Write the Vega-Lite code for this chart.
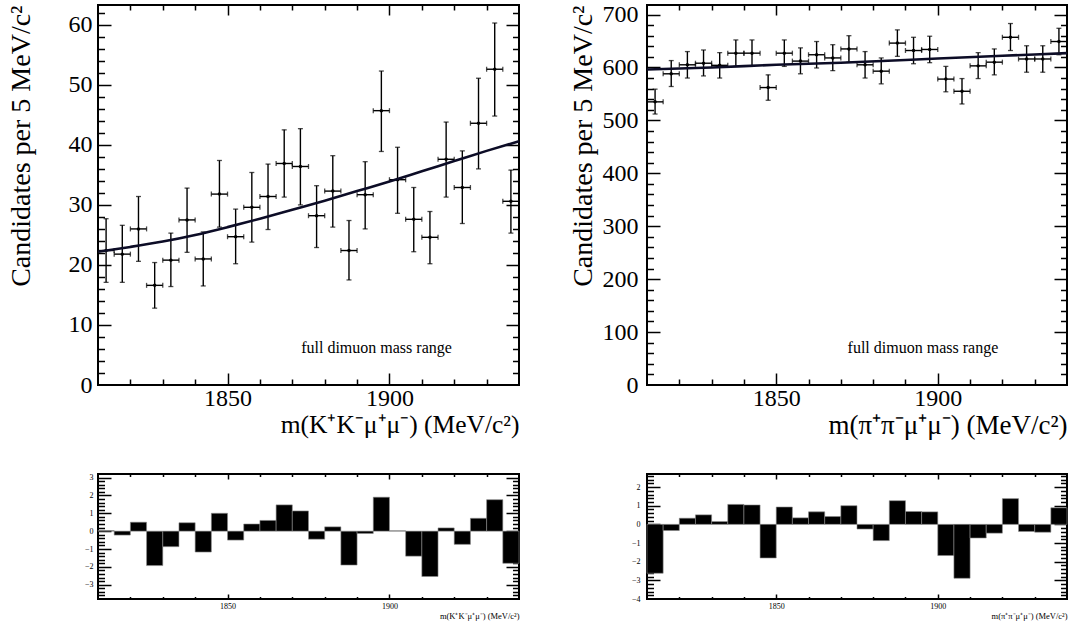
{
  "$schema": "https://vega.github.io/schema/vega-lite/v6.json",
  "background": "white",
  "padding": {"left": 5, "top": 1, "right": 5, "bottom": 5},
  "bounds": "flush",
  "columns": 2,
  "spacing": {"row": 89, "column": 128},
  "datasets": {
    "kk": [
      {"c":1812.5,"lo":1810,"hi":1815,"v":22.4,"elo":17.1,"ehi":27.7,"pull":0.03},
      {"c":1817.5,"lo":1815,"hi":1820,"v":21.8,"elo":17.1,"ehi":26.6,"pull":-0.22},
      {"c":1822.5,"lo":1820,"hi":1825,"v":26.0,"elo":20.6,"ehi":31.4,"pull":0.5},
      {"c":1827.5,"lo":1825,"hi":1830,"v":16.6,"elo":12.8,"ehi":20.4,"pull":-1.93},
      {"c":1832.5,"lo":1830,"hi":1835,"v":20.8,"elo":16.4,"ehi":25.3,"pull":-0.87},
      {"c":1837.5,"lo":1835,"hi":1840,"v":27.5,"elo":22.1,"ehi":32.8,"pull":0.47},
      {"c":1842.5,"lo":1840,"hi":1845,"v":21.0,"elo":16.5,"ehi":25.5,"pull":-1.17},
      {"c":1847.5,"lo":1845,"hi":1850,"v":31.8,"elo":26.3,"ehi":37.4,"pull":1.0},
      {"c":1852.5,"lo":1850,"hi":1855,"v":24.7,"elo":20.2,"ehi":29.3,"pull":-0.5},
      {"c":1857.5,"lo":1855,"hi":1860,"v":29.6,"elo":23.8,"ehi":35.4,"pull":0.4},
      {"c":1862.5,"lo":1860,"hi":1865,"v":31.4,"elo":25.9,"ehi":36.8,"pull":0.6},
      {"c":1867.5,"lo":1865,"hi":1870,"v":36.9,"elo":31.3,"ehi":42.5,"pull":1.47},
      {"c":1872.5,"lo":1870,"hi":1875,"v":36.4,"elo":30.0,"ehi":42.7,"pull":1.13},
      {"c":1877.5,"lo":1875,"hi":1880,"v":28.2,"elo":22.9,"ehi":33.2,"pull":-0.45},
      {"c":1882.5,"lo":1880,"hi":1885,"v":32.3,"elo":26.3,"ehi":38.2,"pull":0.24},
      {"c":1887.5,"lo":1885,"hi":1890,"v":22.4,"elo":17.5,"ehi":27.4,"pull":-1.9},
      {"c":1892.5,"lo":1890,"hi":1895,"v":31.7,"elo":26.0,"ehi":37.2,"pull":-0.13},
      {"c":1897.5,"lo":1895,"hi":1900,"v":45.7,"elo":38.9,"ehi":52.3,"pull":1.9},
      {"c":1902.5,"lo":1900,"hi":1905,"v":34.2,"elo":28.6,"ehi":39.6,"pull":0.02},
      {"c":1907.5,"lo":1905,"hi":1910,"v":27.6,"elo":22.2,"ehi":32.9,"pull":-1.4},
      {"c":1912.5,"lo":1910,"hi":1915,"v":24.6,"elo":20.2,"ehi":28.9,"pull":-2.54},
      {"c":1917.5,"lo":1915,"hi":1920,"v":37.6,"elo":31.3,"ehi":43.8,"pull":0.18},
      {"c":1922.5,"lo":1920,"hi":1925,"v":32.9,"elo":26.9,"ehi":39.0,"pull":-0.74},
      {"c":1927.5,"lo":1925,"hi":1930,"v":43.6,"elo":36.0,"ehi":51.1,"pull":0.72},
      {"c":1932.5,"lo":1930,"hi":1935,"v":52.6,"elo":44.8,"ehi":60.3,"pull":1.76},
      {"c":1937.5,"lo":1935,"hi":1940,"v":30.6,"elo":25.3,"ehi":35.8,"pull":-1.8}
    ],
    "kkfit": [
      {"m":1810,"f":22.2},{"m":1820,"f":23.0},{"m":1830,"f":23.9},{"m":1840,"f":25.0},
      {"m":1850,"f":26.3},{"m":1860,"f":27.7},{"m":1870,"f":29.2},{"m":1880,"f":30.7},
      {"m":1890,"f":32.3},{"m":1900,"f":33.9},{"m":1910,"f":35.6},{"m":1920,"f":37.3},
      {"m":1930,"f":39.0},{"m":1940,"f":40.6}
    ],
    "kklab": [{"tx":1896,"ty":6.1,"t":"full dimuon mass range"}],
    "pp": [
      {"c":1812.5,"lo":1810,"hi":1815,"v":535,"elo":512,"ehi":559,"pull":-2.62},
      {"c":1817.5,"lo":1815,"hi":1820,"v":588,"elo":564,"ehi":613,"pull":-0.33},
      {"c":1822.5,"lo":1820,"hi":1825,"v":605,"elo":580,"ehi":630,"pull":0.33},
      {"c":1827.5,"lo":1825,"hi":1830,"v":608,"elo":584,"ehi":633,"pull":0.51},
      {"c":1832.5,"lo":1830,"hi":1835,"v":604,"elo":580,"ehi":628,"pull":0.15},
      {"c":1837.5,"lo":1835,"hi":1840,"v":627,"elo":602,"ehi":652,"pull":1.07},
      {"c":1842.5,"lo":1840,"hi":1845,"v":627,"elo":602,"ehi":652,"pull":1.04},
      {"c":1847.5,"lo":1845,"hi":1850,"v":562,"elo":538,"ehi":586,"pull":-1.8},
      {"c":1852.5,"lo":1850,"hi":1855,"v":627,"elo":602,"ehi":652,"pull":0.93},
      {"c":1857.5,"lo":1855,"hi":1860,"v":612,"elo":588,"ehi":637,"pull":0.35},
      {"c":1862.5,"lo":1860,"hi":1865,"v":624,"elo":599,"ehi":649,"pull":0.67},
      {"c":1867.5,"lo":1865,"hi":1870,"v":618,"elo":594,"ehi":643,"pull":0.42},
      {"c":1872.5,"lo":1870,"hi":1875,"v":635,"elo":610,"ehi":660,"pull":1.0},
      {"c":1877.5,"lo":1875,"hi":1880,"v":605,"elo":580,"ehi":630,"pull":-0.25},
      {"c":1882.5,"lo":1880,"hi":1885,"v":593,"elo":569,"ehi":618,"pull":-0.87},
      {"c":1887.5,"lo":1885,"hi":1890,"v":646,"elo":621,"ehi":671,"pull":1.27},
      {"c":1892.5,"lo":1890,"hi":1895,"v":632,"elo":607,"ehi":657,"pull":0.69},
      {"c":1897.5,"lo":1895,"hi":1900,"v":634,"elo":609,"ehi":659,"pull":0.67},
      {"c":1902.5,"lo":1900,"hi":1905,"v":578,"elo":554,"ehi":602,"pull":-1.67},
      {"c":1907.5,"lo":1905,"hi":1910,"v":555,"elo":531,"ehi":579,"pull":-2.89},
      {"c":1912.5,"lo":1910,"hi":1915,"v":603,"elo":579,"ehi":628,"pull":-0.73},
      {"c":1917.5,"lo":1915,"hi":1920,"v":610,"elo":586,"ehi":635,"pull":-0.47},
      {"c":1922.5,"lo":1920,"hi":1925,"v":657,"elo":632,"ehi":683,"pull":1.38},
      {"c":1927.5,"lo":1925,"hi":1930,"v":616,"elo":591,"ehi":641,"pull":-0.38},
      {"c":1932.5,"lo":1930,"hi":1935,"v":616,"elo":591,"ehi":641,"pull":-0.42},
      {"c":1937.5,"lo":1935,"hi":1940,"v":649,"elo":624,"ehi":674,"pull":0.89}
    ],
    "ppfit": [
      {"m":1810,"f":596},{"m":1830,"f":600},{"m":1850,"f":605},{"m":1870,"f":609},
      {"m":1890,"f":614},{"m":1900,"f":617},{"m":1920,"f":622},{"m":1940,"f":627}
    ],
    "pplab": [{"tx":1895.4,"ty":69.5,"t":"full dimuon mass range"}]
  },
  "concat": [
    {
      "width": 421, "height": 380,
      "layer": [
        {"data":{"name":"kk"},"mark":{"type":"rule","color":"black","strokeWidth":1.4},
         "encoding":{"x":{"field":"c","type":"quantitative","scale":{"domain":[1810,1940],"nice":false,"zero":false},"axis":null},
                     "y":{"field":"elo","type":"quantitative","scale":{"domain":[0,63.3],"nice":false,"zero":false},"axis":null},
                     "y2":{"field":"ehi"}}},
        {"data":{"name":"kk"},"mark":{"type":"rule","color":"black","strokeWidth":1.4},
         "encoding":{"x":{"field":"lo","type":"quantitative","scale":{"domain":[1810,1940],"nice":false,"zero":false},"axis":null},
                     "x2":{"field":"hi"},
                     "y":{"field":"v","type":"quantitative","scale":{"domain":[0,63.3],"nice":false,"zero":false},"axis":null}}},
        {"data":{"name":"kk"},"mark":{"type":"tick","orient":"horizontal","color":"black","size":5,"thickness":1.3},
         "encoding":{"x":{"field":"c","type":"quantitative","scale":{"domain":[1810,1940],"nice":false,"zero":false},"axis":null},
                     "y":{"field":"elo","type":"quantitative","scale":{"domain":[0,63.3],"nice":false,"zero":false},"axis":null}}},
        {"data":{"name":"kk"},"mark":{"type":"tick","orient":"horizontal","color":"black","size":5,"thickness":1.3},
         "encoding":{"x":{"field":"c","type":"quantitative","scale":{"domain":[1810,1940],"nice":false,"zero":false},"axis":null},
                     "y":{"field":"ehi","type":"quantitative","scale":{"domain":[0,63.3],"nice":false,"zero":false},"axis":null}}},
        {"data":{"name":"kk"},"mark":{"type":"tick","orient":"vertical","color":"black","size":5,"thickness":1.3},
         "encoding":{"x":{"field":"lo","type":"quantitative","scale":{"domain":[1810,1940],"nice":false,"zero":false},"axis":null},
                     "y":{"field":"v","type":"quantitative","scale":{"domain":[0,63.3],"nice":false,"zero":false},"axis":null}}},
        {"data":{"name":"kk"},"mark":{"type":"tick","orient":"vertical","color":"black","size":5,"thickness":1.3},
         "encoding":{"x":{"field":"hi","type":"quantitative","scale":{"domain":[1810,1940],"nice":false,"zero":false},"axis":null},
                     "y":{"field":"v","type":"quantitative","scale":{"domain":[0,63.3],"nice":false,"zero":false},"axis":null}}},
        {"data":{"name":"kk"},"mark":{"type":"circle","color":"black","size":12,"opacity":1},
         "encoding":{"x":{"field":"c","type":"quantitative","scale":{"domain":[1810,1940],"nice":false,"zero":false},"axis":null},
                     "y":{"field":"v","type":"quantitative","scale":{"domain":[0,63.3],"nice":false,"zero":false},"axis":null}}},
        {"data":{"name":"kkfit"},"mark":{"type":"line","color":"#0c0c26","strokeWidth":2.6,"interpolate":"monotone"},
         "encoding":{
           "x":{"field":"m","type":"quantitative","scale":{"domain":[1810,1940],"nice":false,"zero":false},
                "axis":{"orient":"bottom","ticks":false,"title":"m(K⁺K⁻μ⁺μ⁻) (MeV/c²)","titleAnchor":"end","titleFontSize":25.5,"titlePadding":2,
                        "labelFontSize":24,"labelPadding":1,"format":"d","values":[1850,1900]}},
           "y":{"field":"f","type":"quantitative","scale":{"domain":[0,63.3],"nice":false,"zero":false},
                "axis":{"orient":"left","ticks":false,"title":"Candidates per 5 MeV/c²","titleAnchor":"end","titleFontSize":28,"titlePadding":33,
                        "labelFontSize":24,"labelPadding":6,"values":[0,10,20,30,40,50,60]}}}},
        {"data":{"name":"kkfit"},"mark":{"type":"line","opacity":0},
         "encoding":{
           "x":{"field":"m","type":"quantitative","scale":{"domain":[1810,1940],"nice":false,"zero":false},
                "axis":{"orient":"bottom","labels":false,"title":null,"values":[1850,1900],"tickSize":12,"offset":-12}},
           "y":{"field":"f","type":"quantitative","scale":{"domain":[0,63.3],"nice":false,"zero":false},
                "axis":{"orient":"left","labels":false,"title":null,"values":[10,20,30,40,50,60],"tickSize":13,"offset":-13}}}},
        {"data":{"name":"kkfit"},"mark":{"type":"line","opacity":0},
         "encoding":{
           "x":{"field":"m","type":"quantitative","scale":{"domain":[1810,1940],"nice":false,"zero":false},
                "axis":{"orient":"bottom","labels":false,"title":null,"values":[1820,1830,1840,1860,1870,1880,1890,1910,1920,1930],"tickSize":6,"offset":-6}},
           "y":{"field":"f","type":"quantitative","scale":{"domain":[0,63.3],"nice":false,"zero":false},
                "axis":{"orient":"left","labels":false,"title":null,"values":[2,4,6,8,12,14,16,18,22,24,26,28,32,34,36,38,42,44,46,48,52,54,56,58,62],"tickSize":6.5,"offset":-6.5}}}},
        {"data":{"name":"kkfit"},"mark":{"type":"line","opacity":0},
         "encoding":{
           "x":{"field":"m","type":"quantitative","scale":{"domain":[1810,1940],"nice":false,"zero":false},
                "axis":{"orient":"top","labels":false,"title":null,"values":[1850,1900],"tickSize":10,"offset":-10}},
           "y":{"field":"f","type":"quantitative","scale":{"domain":[0,63.3],"nice":false,"zero":false},
                "axis":{"orient":"right","labels":false,"title":null,"values":[10,20,30,40,50,60],"tickSize":13,"offset":-13}}}},
        {"data":{"name":"kkfit"},"mark":{"type":"line","opacity":0},
         "encoding":{
           "x":{"field":"m","type":"quantitative","scale":{"domain":[1810,1940],"nice":false,"zero":false},
                "axis":{"orient":"top","labels":false,"title":null,"values":[1820,1830,1840,1860,1870,1880,1890,1910,1920,1930],"tickSize":5,"offset":-5}},
           "y":{"field":"f","type":"quantitative","scale":{"domain":[0,63.3],"nice":false,"zero":false},
                "axis":{"orient":"right","labels":false,"title":null,"values":[2,4,6,8,12,14,16,18,22,24,26,28,32,34,36,38,42,44,46,48,52,54,56,58,62],"tickSize":6.5,"offset":-6.5}}}},
        {"data":{"name":"kklab"},"mark":{"type":"text","font":"Liberation Serif","fontSize":16,"align":"center","baseline":"middle","color":"black"},
         "encoding":{"x":{"field":"tx","type":"quantitative","scale":{"domain":[1810,1940],"nice":false,"zero":false},"axis":null},
                     "y":{"field":"ty","type":"quantitative","scale":{"domain":[0,63.3],"nice":false,"zero":false},"axis":null},
                     "text":{"field":"t"}}}
      ],
      "resolve":{"axis":{"x":"independent","y":"independent"}}
    },
    {
      "width": 420, "height": 380,
      "layer": [
        {"data":{"name":"pp"},"mark":{"type":"rule","color":"black","strokeWidth":1.4},
         "encoding":{"x":{"field":"c","type":"quantitative","scale":{"domain":[1810,1940],"nice":false,"zero":false},"axis":null},
                     "y":{"field":"elo","type":"quantitative","scale":{"domain":[0,718],"nice":false,"zero":false},"axis":null},
                     "y2":{"field":"ehi"}}},
        {"data":{"name":"pp"},"mark":{"type":"rule","color":"black","strokeWidth":1.4},
         "encoding":{"x":{"field":"lo","type":"quantitative","scale":{"domain":[1810,1940],"nice":false,"zero":false},"axis":null},
                     "x2":{"field":"hi"},
                     "y":{"field":"v","type":"quantitative","scale":{"domain":[0,718],"nice":false,"zero":false},"axis":null}}},
        {"data":{"name":"pp"},"mark":{"type":"tick","orient":"horizontal","color":"black","size":5,"thickness":1.3},
         "encoding":{"x":{"field":"c","type":"quantitative","scale":{"domain":[1810,1940],"nice":false,"zero":false},"axis":null},
                     "y":{"field":"elo","type":"quantitative","scale":{"domain":[0,718],"nice":false,"zero":false},"axis":null}}},
        {"data":{"name":"pp"},"mark":{"type":"tick","orient":"horizontal","color":"black","size":5,"thickness":1.3},
         "encoding":{"x":{"field":"c","type":"quantitative","scale":{"domain":[1810,1940],"nice":false,"zero":false},"axis":null},
                     "y":{"field":"ehi","type":"quantitative","scale":{"domain":[0,718],"nice":false,"zero":false},"axis":null}}},
        {"data":{"name":"pp"},"mark":{"type":"tick","orient":"vertical","color":"black","size":5,"thickness":1.3},
         "encoding":{"x":{"field":"lo","type":"quantitative","scale":{"domain":[1810,1940],"nice":false,"zero":false},"axis":null},
                     "y":{"field":"v","type":"quantitative","scale":{"domain":[0,718],"nice":false,"zero":false},"axis":null}}},
        {"data":{"name":"pp"},"mark":{"type":"tick","orient":"vertical","color":"black","size":5,"thickness":1.3},
         "encoding":{"x":{"field":"hi","type":"quantitative","scale":{"domain":[1810,1940],"nice":false,"zero":false},"axis":null},
                     "y":{"field":"v","type":"quantitative","scale":{"domain":[0,718],"nice":false,"zero":false},"axis":null}}},
        {"data":{"name":"pp"},"mark":{"type":"circle","color":"black","size":12,"opacity":1},
         "encoding":{"x":{"field":"c","type":"quantitative","scale":{"domain":[1810,1940],"nice":false,"zero":false},"axis":null},
                     "y":{"field":"v","type":"quantitative","scale":{"domain":[0,718],"nice":false,"zero":false},"axis":null}}},
        {"data":{"name":"ppfit"},"mark":{"type":"line","color":"#0c0c26","strokeWidth":2.6,"interpolate":"monotone"},
         "encoding":{
           "x":{"field":"m","type":"quantitative","scale":{"domain":[1810,1940],"nice":false,"zero":false},
                "axis":{"orient":"bottom","ticks":false,"title":"m(π⁺π⁻μ⁺μ⁻) (MeV/c²)","titleAnchor":"end","titleFontSize":27,"titlePadding":2,
                        "labelFontSize":24,"labelPadding":1,"format":"d","values":[1850,1900]}},
           "y":{"field":"f","type":"quantitative","scale":{"domain":[0,718],"nice":false,"zero":false},
                "axis":{"orient":"left","ticks":false,"title":"Candidates per 5 MeV/c²","titleAnchor":"end","titleFontSize":28,"titlePadding":5,
                        "labelFontSize":24,"labelPadding":9,"values":[0,100,200,300,400,500,600,700]}}}},
        {"data":{"name":"ppfit"},"mark":{"type":"line","opacity":0},
         "encoding":{
           "x":{"field":"m","type":"quantitative","scale":{"domain":[1810,1940],"nice":false,"zero":false},
                "axis":{"orient":"bottom","labels":false,"title":null,"values":[1850,1900],"tickSize":12,"offset":-12}},
           "y":{"field":"f","type":"quantitative","scale":{"domain":[0,718],"nice":false,"zero":false},
                "axis":{"orient":"left","labels":false,"title":null,"values":[100,200,300,400,500,600,700],"tickSize":13,"offset":-13}}}},
        {"data":{"name":"ppfit"},"mark":{"type":"line","opacity":0},
         "encoding":{
           "x":{"field":"m","type":"quantitative","scale":{"domain":[1810,1940],"nice":false,"zero":false},
                "axis":{"orient":"bottom","labels":false,"title":null,"values":[1820,1830,1840,1860,1870,1880,1890,1910,1920,1930],"tickSize":6,"offset":-6}},
           "y":{"field":"f","type":"quantitative","scale":{"domain":[0,718],"nice":false,"zero":false},
                "axis":{"orient":"left","labels":false,"title":null,"values":[20,40,60,80,120,140,160,180,220,240,260,280,320,340,360,380,420,440,460,480,520,540,560,580,620,640,660,680],"tickSize":6.5,"offset":-6.5}}}},
        {"data":{"name":"ppfit"},"mark":{"type":"line","opacity":0},
         "encoding":{
           "x":{"field":"m","type":"quantitative","scale":{"domain":[1810,1940],"nice":false,"zero":false},
                "axis":{"orient":"top","labels":false,"title":null,"values":[1850,1900],"tickSize":10,"offset":-10}},
           "y":{"field":"f","type":"quantitative","scale":{"domain":[0,718],"nice":false,"zero":false},
                "axis":{"orient":"right","labels":false,"title":null,"values":[100,200,300,400,500,600,700],"tickSize":13,"offset":-13}}}},
        {"data":{"name":"ppfit"},"mark":{"type":"line","opacity":0},
         "encoding":{
           "x":{"field":"m","type":"quantitative","scale":{"domain":[1810,1940],"nice":false,"zero":false},
                "axis":{"orient":"top","labels":false,"title":null,"values":[1820,1830,1840,1860,1870,1880,1890,1910,1920,1930],"tickSize":5,"offset":-5}},
           "y":{"field":"f","type":"quantitative","scale":{"domain":[0,718],"nice":false,"zero":false},
                "axis":{"orient":"right","labels":false,"title":null,"values":[20,40,60,80,120,140,160,180,220,240,260,280,320,340,360,380,420,440,460,480,520,540,560,580,620,640,660,680],"tickSize":6.5,"offset":-6.5}}}},
        {"data":{"name":"pplab"},"mark":{"type":"text","font":"Liberation Serif","fontSize":16,"align":"center","baseline":"middle","color":"black"},
         "encoding":{"x":{"field":"tx","type":"quantitative","scale":{"domain":[1810,1940],"nice":false,"zero":false},"axis":null},
                     "y":{"field":"ty","type":"quantitative","scale":{"domain":[0,718],"nice":false,"zero":false},"axis":null},
                     "text":{"field":"t"}}}
      ],
      "resolve":{"axis":{"x":"independent","y":"independent"}}
    },
    {
      "width": 421, "height": 125,
      "layer": [
        {"data":{"name":"kk"},"mark":{"type":"bar","color":"black","stroke":"#8a8a8a","strokeWidth":0.6},
         "encoding":{
           "x":{"field":"lo","type":"quantitative","scale":{"domain":[1810,1940],"nice":false,"zero":false},
                "axis":{"orient":"bottom","ticks":false,"title":"m(K⁺K⁻μ⁺μ⁻) (MeV/c²)","titleAnchor":"end","titleFontSize":8.5,"titlePadding":1,
                        "labelFontSize":8,"labelPadding":3,"format":"d","values":[1850,1900]}},
           "x2":{"field":"hi"},
           "y":{"field":"pull","type":"quantitative","scale":{"domain":[-3.8,3.2],"nice":false,"zero":false},
                "axis":{"orient":"left","ticks":false,"title":null,"labelFontSize":8,"labelPadding":5,"format":"d","values":[-3,-2,-1,0,1,2,3]}},
           "y2":{"datum":0}}},
        {"data":{"name":"kk"},"mark":{"type":"bar","opacity":0},
         "encoding":{
           "x":{"field":"lo","type":"quantitative","scale":{"domain":[1810,1940],"nice":false,"zero":false},
                "axis":{"orient":"bottom","labels":false,"title":null,"values":[1850,1900],"tickSize":5,"offset":-5}},
           "x2":{"field":"hi"},
           "y":{"field":"pull","type":"quantitative","scale":{"domain":[-3.8,3.2],"nice":false,"zero":false},
                "axis":{"orient":"left","labels":false,"title":null,"values":[-3,-2,-1,0,1,2,3],"tickSize":13,"offset":-13}},
           "y2":{"datum":0}}},
        {"data":{"name":"kk"},"mark":{"type":"bar","opacity":0},
         "encoding":{
           "x":{"field":"lo","type":"quantitative","scale":{"domain":[1810,1940],"nice":false,"zero":false},
                "axis":{"orient":"bottom","labels":false,"title":null,"values":[1820,1830,1840,1860,1870,1880,1890,1910,1920,1930],"tickSize":2.5,"offset":-2.5}},
           "x2":{"field":"hi"},
           "y":{"field":"pull","type":"quantitative","scale":{"domain":[-3.8,3.2],"nice":false,"zero":false},
                "axis":{"orient":"left","labels":false,"title":null,"values":[-3.6,-3.4,-3.2,-2.8,-2.6,-2.4,-2.2,-1.8,-1.6,-1.4,-1.2,-0.8,-0.6,-0.4,-0.2,0.2,0.4,0.6,0.8,1.2,1.4,1.6,1.8,2.2,2.4,2.6,2.8],"tickSize":6.5,"offset":-6.5}},
           "y2":{"datum":0}}},
        {"data":{"name":"kk"},"mark":{"type":"bar","opacity":0},
         "encoding":{
           "x":{"field":"lo","type":"quantitative","scale":{"domain":[1810,1940],"nice":false,"zero":false},
                "axis":{"orient":"top","labels":false,"title":null,"values":[1850,1900],"tickSize":5,"offset":-5}},
           "x2":{"field":"hi"},
           "y":{"field":"pull","type":"quantitative","scale":{"domain":[-3.8,3.2],"nice":false,"zero":false},
                "axis":{"orient":"right","labels":false,"title":null,"values":[-3,-2,-1,0,1,2,3],"tickSize":13,"offset":-13}},
           "y2":{"datum":0}}},
        {"data":{"name":"kk"},"mark":{"type":"bar","opacity":0},
         "encoding":{
           "x":{"field":"lo","type":"quantitative","scale":{"domain":[1810,1940],"nice":false,"zero":false},
                "axis":{"orient":"top","labels":false,"title":null,"values":[1820,1830,1840,1860,1870,1880,1890,1910,1920,1930],"tickSize":2.5,"offset":-2.5}},
           "x2":{"field":"hi"},
           "y":{"field":"pull","type":"quantitative","scale":{"domain":[-3.8,3.2],"nice":false,"zero":false},
                "axis":{"orient":"right","labels":false,"title":null,"values":[-3.6,-3.4,-3.2,-2.8,-2.6,-2.4,-2.2,-1.8,-1.6,-1.4,-1.2,-0.8,-0.6,-0.4,-0.2,0.2,0.4,0.6,0.8,1.2,1.4,1.6,1.8,2.2,2.4,2.6,2.8],"tickSize":6.5,"offset":-6.5}},
           "y2":{"datum":0}}}
      ],
      "resolve":{"axis":{"x":"independent","y":"independent"}}
    },
    {
      "width": 420, "height": 125,
      "layer": [
        {"data":{"name":"pp"},"mark":{"type":"bar","color":"black","stroke":"#8a8a8a","strokeWidth":0.6},
         "encoding":{
           "x":{"field":"lo","type":"quantitative","scale":{"domain":[1810,1940],"nice":false,"zero":false},
                "axis":{"orient":"bottom","ticks":false,"title":"m(π⁺π⁻μ⁺μ⁻) (MeV/c²)","titleAnchor":"end","titleFontSize":8.5,"titlePadding":1,
                        "labelFontSize":8,"labelPadding":3,"format":"d","values":[1850,1900]}},
           "x2":{"field":"hi"},
           "y":{"field":"pull","type":"quantitative","scale":{"domain":[-4,2.7],"nice":false,"zero":false},
                "axis":{"orient":"left","ticks":false,"title":null,"labelFontSize":8,"labelPadding":7,"format":"d","values":[-4,-3,-2,-1,0,1,2]}},
           "y2":{"datum":0}}},
        {"data":{"name":"pp"},"mark":{"type":"bar","opacity":0},
         "encoding":{
           "x":{"field":"lo","type":"quantitative","scale":{"domain":[1810,1940],"nice":false,"zero":false},
                "axis":{"orient":"bottom","labels":false,"title":null,"values":[1850,1900],"tickSize":5,"offset":-5}},
           "x2":{"field":"hi"},
           "y":{"field":"pull","type":"quantitative","scale":{"domain":[-4,2.7],"nice":false,"zero":false},
                "axis":{"orient":"left","labels":false,"title":null,"values":[-3,-2,-1,0,1,2],"tickSize":13,"offset":-13}},
           "y2":{"datum":0}}},
        {"data":{"name":"pp"},"mark":{"type":"bar","opacity":0},
         "encoding":{
           "x":{"field":"lo","type":"quantitative","scale":{"domain":[1810,1940],"nice":false,"zero":false},
                "axis":{"orient":"bottom","labels":false,"title":null,"values":[1820,1830,1840,1860,1870,1880,1890,1910,1920,1930],"tickSize":2.5,"offset":-2.5}},
           "x2":{"field":"hi"},
           "y":{"field":"pull","type":"quantitative","scale":{"domain":[-4,2.7],"nice":false,"zero":false},
                "axis":{"orient":"left","labels":false,"title":null,"values":[-3.8,-3.6,-3.4,-3.2,-2.8,-2.6,-2.4,-2.2,-1.8,-1.6,-1.4,-1.2,-0.8,-0.6,-0.4,-0.2,0.2,0.4,0.6,0.8,1.2,1.4,1.6,1.8,2.2,2.4,2.6],"tickSize":6.5,"offset":-6.5}},
           "y2":{"datum":0}}},
        {"data":{"name":"pp"},"mark":{"type":"bar","opacity":0},
         "encoding":{
           "x":{"field":"lo","type":"quantitative","scale":{"domain":[1810,1940],"nice":false,"zero":false},
                "axis":{"orient":"top","labels":false,"title":null,"values":[1850,1900],"tickSize":5,"offset":-5}},
           "x2":{"field":"hi"},
           "y":{"field":"pull","type":"quantitative","scale":{"domain":[-4,2.7],"nice":false,"zero":false},
                "axis":{"orient":"right","labels":false,"title":null,"values":[-3,-2,-1,0,1,2],"tickSize":13,"offset":-13}},
           "y2":{"datum":0}}},
        {"data":{"name":"pp"},"mark":{"type":"bar","opacity":0},
         "encoding":{
           "x":{"field":"lo","type":"quantitative","scale":{"domain":[1810,1940],"nice":false,"zero":false},
                "axis":{"orient":"top","labels":false,"title":null,"values":[1820,1830,1840,1860,1870,1880,1890,1910,1920,1930],"tickSize":2.5,"offset":-2.5}},
           "x2":{"field":"hi"},
           "y":{"field":"pull","type":"quantitative","scale":{"domain":[-4,2.7],"nice":false,"zero":false},
                "axis":{"orient":"right","labels":false,"title":null,"values":[-3.8,-3.6,-3.4,-3.2,-2.8,-2.6,-2.4,-2.2,-1.8,-1.6,-1.4,-1.2,-0.8,-0.6,-0.4,-0.2,0.2,0.4,0.6,0.8,1.2,1.4,1.6,1.8,2.2,2.4,2.6],"tickSize":6.5,"offset":-6.5}},
           "y2":{"datum":0}}}
      ],
      "resolve":{"axis":{"x":"independent","y":"independent"}}
    }
  ],
  "config": {
    "font": "Liberation Serif",
    "view": {"stroke": "black", "strokeWidth": 2},
    "axis": {
      "labelFont": "Liberation Serif", "titleFont": "Liberation Serif",
      "labelColor": "black", "titleColor": "black", "tickColor": "black",
      "tickWidth": 1.5, "tickSize": 0, "domain": false, "grid": false,
      "labelFontWeight": "normal", "titleFontWeight": "normal",
      "labelOverlap": false, "labelFlush": false, "labelBound": false
    }
  }
}
